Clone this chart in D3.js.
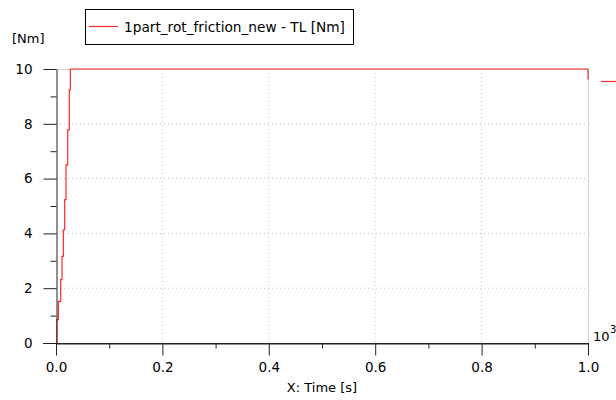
<!DOCTYPE html>
<html>
<head>
<meta charset="utf-8">
<script src="https://cdn.jsdelivr.net/npm/d3@7/dist/d3.min.js"></script>
<style>
html,body{margin:0;padding:0;background:#fff;}
svg{display:block;}
text{font-family:"DejaVu Sans",Tahoma,sans-serif;font-size:13px;fill:#000;}
</style>
</head>
<body>
<svg id="chart" width="616" height="400"></svg>
<script>
// Data
const seriesName = "1part_rot_friction_new - TL [Nm]";
const timeValues = [0, 0.0013, 0.0044, 0.0088, 0.0113, 0.0138, 0.0163, 0.0188, 0.022, 0.025, 0.0269, 1.0];
const tlValues   = [0, 0.85, 1.52, 2.31, 3.16, 4.13, 5.23, 6.5, 7.78, 9.24, 10, 9.62];
const xMajorTicks = [0, 0.2, 0.4, 0.6, 0.8, 1.0];
const xMinorTicks = [0.1, 0.3, 0.5, 0.7, 0.9];
const yMajorTicks = [0, 2, 4, 6, 8, 10];
const yMinorTicks = [1, 3, 5, 7, 9];
const xLabel = "X: Time [s]";
const yUnit = "[Nm]";

const svg = d3.select("#chart");
const L = 56, R = 588, T = 69, B = 343;
const x = d3.scaleLinear().domain([0, 1]).range([L, R]);
const y = d3.scaleLinear().domain([0, 10]).range([B, T]);

// grid
const grid = svg.append("g");
grid.selectAll("line.gx").data(xMajorTicks.filter(d => d > 0 && d < 1)).join("line")
  .attr("x1", d => x(d)).attr("x2", d => x(d)).attr("y1", T).attr("y2", B)
  .attr("stroke", "#c4c4c4").attr("stroke-dasharray", "1,3");
grid.selectAll("line.gy").data(yMajorTicks.filter(d => d > 0 && d < 10)).join("line")
  .attr("x1", L).attr("x2", R).attr("y1", d => y(d)).attr("y2", d => y(d))
  .attr("stroke", "#c4c4c4").attr("stroke-dasharray", "1,3");
// top and right borders
svg.append("line").attr("x1", L).attr("x2", R).attr("y1", y(10)+0.5).attr("y2", y(10)+0.5).attr("stroke", "#d0d0d0");
svg.append("line").attr("x1", R+0.5).attr("x2", R+0.5).attr("y1", T).attr("y2", B).attr("stroke", "#d0d0d0");

// series
const data = timeValues.map((t, i) => [t, tlValues[i]]);
svg.append("path").datum(data)
  .attr("fill", "none").attr("stroke", "#ff2a2a").attr("stroke-width", 1.2)
  .attr("d", d3.line().x(d => x(d[0])).y(d => y(d[1])).curve(d3.curveStepAfter));

// axes
const yAx = svg.append("g").attr("transform", `translate(${L+0.5},0)`)
  .call(d3.axisLeft(y).tickValues(yMajorTicks).tickFormat(d3.format("d")).tickSize(13).tickSizeOuter(0).tickPadding(11));
const yMin = svg.append("g").attr("transform", `translate(${L+0.5},0)`)
  .call(d3.axisLeft(y).tickValues(yMinorTicks).tickFormat("").tickSize(6).tickSizeOuter(0));
yMin.select(".domain").remove();

const xAx = svg.append("g").attr("transform", `translate(0,${B+0.5})`)
  .call(d3.axisBottom(x).tickValues(xMajorTicks).tickFormat(d3.format(".1f")).tickSize(12).tickSizeOuter(0).tickPadding(7));
const xMin = svg.append("g").attr("transform", `translate(0,${B+0.5})`)
  .call(d3.axisBottom(x).tickValues(xMinorTicks).tickFormat("").tickSize(5).tickSizeOuter(0));
xMin.select(".domain").remove();
svg.append("line").attr("x1", 43).attr("x2", R+1).attr("y1", B+0.5).attr("y2", B+0.5).attr("stroke", "#222");

svg.selectAll(".tick line").attr("stroke", "#222");
svg.selectAll(".domain").attr("stroke", "#222");
svg.selectAll(".tick text").style("font-family", '"DejaVu Sans",Tahoma,sans-serif').style("font-size", "13.5px").attr("fill", "#000");

// labels
svg.append("text").attr("x", (L + R) / 2).attr("y", 392).attr("text-anchor", "middle").text(xLabel);
svg.append("text").attr("x", 12).attr("y", 43).text(yUnit);
svg.append("text").attr("x", 593).attr("y", 341).text("10");
svg.append("text").attr("x", 610).attr("y", 333).style("font-size", "10px").text("3");

// legend
const lg = svg.append("g");
lg.append("rect").attr("x", 85.5).attr("y", 9.5).attr("width", 268).attr("height", 35)
  .attr("fill", "#fff").attr("stroke", "#000");
lg.append("line").attr("x1", 89).attr("x2", 118).attr("y1", 26.5).attr("y2", 26.5).attr("stroke", "#ff2a2a").attr("stroke-width", 1.2);
lg.append("text").attr("x", 124).attr("y", 32).style("font-size", "13.7px").text(seriesName);

// partial legend marker cut at right edge
svg.append("line").attr("x1", 601).attr("x2", 616).attr("y1", 81.5).attr("y2", 81.5).attr("stroke", "#ff2a2a").attr("stroke-width", 1.2);
</script>
</body>
</html>
